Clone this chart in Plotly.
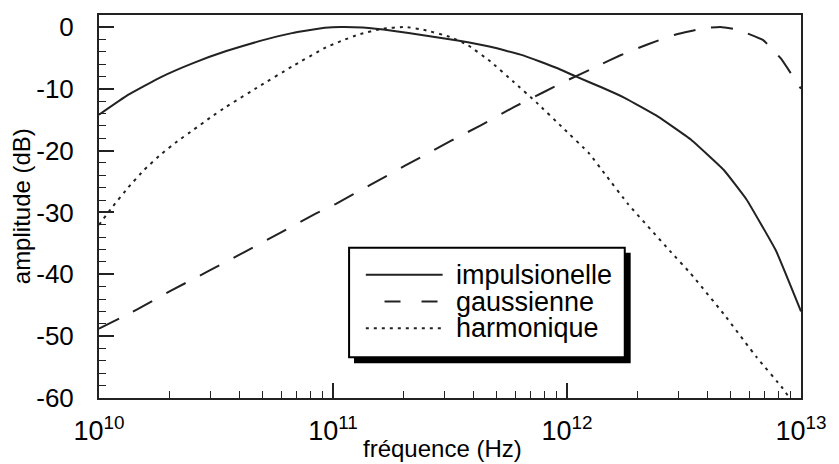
import plotly.graph_objects as go

# frequencies (Hz) and amplitudes (dB)
freq_imp = [1.0e10, 1.33e10, 1.84e10, 2.54e10, 3.50e10, 4.84e10, 6.68e10, 9.23e10,
            1.08e11, 1.34e11, 1.79e11, 2.47e11, 3.41e11, 4.71e11, 6.50e11, 8.99e11,
            1.09e12, 1.41e12, 1.77e12, 2.45e12, 3.38e12, 4.67e12, 5.85e12, 7.82e12, 1.0e13]
amp_imp = [-14.2, -11.0, -8.1, -5.8, -3.9, -2.3, -1.0, -0.15,
           0.0, -0.1, -0.6, -1.4, -2.2, -3.2, -4.6, -6.6,
           -8.0, -9.8, -11.5, -14.5, -18.2, -23.1, -27.9, -36.2, -46.0]

freq_gau = [1.0e10, 1.45e10, 2.04e10, 2.93e10, 4.18e10, 6.0e10, 8.43e10, 1.03e11,
            1.45e11, 2.04e11, 3.20e11, 4.28e11, 5.90e11, 7.89e11, 1.02e12, 1.32e12,
            1.71e12, 2.22e12, 2.87e12, 3.85e12, 4.52e12, 5.31e12, 6.87e12, 8.20e12, 1.0e13]
amp_gau = [-48.8, -45.7, -42.6, -39.5, -36.4, -33.2, -30.2, -28.6,
           -25.5, -22.4, -18.4, -15.9, -13.0, -10.6, -8.5, -6.5,
           -4.5, -2.8, -1.3, -0.2, 0.0, -0.4, -2.1, -5.1, -10.0]

freq_har = [1.0e10, 1.13e10, 1.33e10, 1.56e10, 1.84e10, 2.16e10, 2.54e10, 2.98e10,
            3.50e10, 4.84e10, 6.68e10, 9.33e10, 1.08e11, 1.29e11, 1.62e11, 2.04e11,
            2.47e11, 3.15e11, 3.76e11, 4.71e11, 5.90e11, 7.40e11, 9.59e11, 1.24e12,
            1.46e12, 1.83e12, 2.75e12, 3.38e12, 4.67e12, 6.46e12, 8.34e12, 9.12e12]
amp_har = [-32.0, -29.3, -26.0, -23.1, -20.6, -18.5, -16.6, -14.7,
           -12.9, -9.6, -6.4, -3.3, -2.3, -1.2, -0.3, 0.0,
           -0.5, -1.6, -2.9, -5.6, -8.85, -12.2, -16.3, -20.4,
           -23.9, -28.7, -36.2, -39.9, -46.4, -53.4, -58.4, -60.5]

series_names = ["impulsionelle", "gaussienne", "harmonique"]
x_tickvals = [1e10, 1e11, 1e12, 1e13]
x_ticktext = ["10<sup>10</sup>", "10<sup>11</sup>", "10<sup>12</sup>", "10<sup>13</sup>"]
y_tickvals = [0, -10, -20, -30, -40, -50, -60]
y_ticktext = ["0", "-10", "-20", "-30", "-40", "-50", "-60"]

W, H = 839, 464
L, R, T, B = 99, 812, 13, 398
FONT = "Liberation Sans, Arial, sans-serif"
INK = "#222222"


def px(x):
    return (x - L) / (R - L)


def py(y):
    return (B - y) / (B - T)


fig = go.Figure()
styles = [("solid", 2), ("22px,16px", 2), ("3px,5px", 2)]
for (fx, fy), name, (dash, w) in zip([(freq_imp, amp_imp), (freq_gau, amp_gau), (freq_har, amp_har)],
                                     series_names, styles):
    fig.add_trace(go.Scatter(x=fx, y=fy, mode="lines", name=name, showlegend=False,
                             line=dict(color=INK, width=w, dash=dash, shape="spline", smoothing=0.3)))

fig.update_layout(
    width=W, height=H,
    margin=dict(l=L, r=W - R, t=T, b=H - B),
    plot_bgcolor="white", paper_bgcolor="white",
    font=dict(family=FONT, size=26, color="black"),
)
fig.update_xaxes(type="log", range=[10, 13], tickvals=x_tickvals, ticktext=x_ticktext,
                 tickfont=dict(size=27), ticklabelstandoff=8,
                 ticks="inside", ticklen=15, tickwidth=1.5, tickcolor=INK,
                 minor=dict(ticks="inside", ticklen=7, tickwidth=1.2, tickcolor=INK, dtick="D1"),
                 showline=True, linecolor=INK, linewidth=2, mirror=True,
                 showgrid=False, zeroline=False)
fig.update_yaxes(range=[-60, 1.93], tickvals=y_tickvals, ticktext=y_ticktext,
                 tickfont=dict(size=26),
                 ticks="inside", ticklen=15, tickwidth=1.5, tickcolor=INK,
                 minor=dict(ticks="inside", ticklen=7, tickwidth=1.2, tickcolor=INK, dtick=2),
                 showline=True, linecolor=INK, linewidth=2, mirror=True,
                 showgrid=False, zeroline=False, ticklabelstandoff=18)

# axis titles
fig.add_annotation(text="fréquence (Hz)", x=px(448), y=py(449), xref="paper", yref="paper",
                   showarrow=False, xanchor="center", yanchor="middle", font=dict(size=24))
fig.add_annotation(text="amplitude (dB)", x=px(20), y=py(205), xref="paper", yref="paper",
                   showarrow=False, textangle=-90, xanchor="center", yanchor="middle",
                   font=dict(size=24))

# legend box with drop shadow
fig.add_shape(type="rect", xref="paper", yref="paper", x0=px(358), x1=px(639), y0=py(363), y1=py(252),
              fillcolor="black", line=dict(width=0))
fig.add_shape(type="rect", xref="paper", yref="paper", x0=px(353), x1=px(633), y0=py(357), y1=py(247),
              fillcolor="white", line=dict(color="black", width=2))
leg_y = [274, 301, 328]
leg_x0 = [370, 389, 370]
for name, (dash, w), yy, x0 in zip(series_names, styles, leg_y, leg_x0):
    fig.add_shape(type="line", xref="paper", yref="paper", x0=px(x0), x1=px(448), y0=py(yy), y1=py(yy),
                  line=dict(color=INK, width=w, dash="16px,21px" if dash.startswith("22") else dash))
    fig.add_annotation(text=name, x=px(460), y=py(yy), xref="paper", yref="paper", showarrow=False,
                       xanchor="left", yanchor="middle", font=dict(size=27))

fig.write_html("out.html", config={"displayModeBar": False},
               post_script="document.body.style.margin='0';")
